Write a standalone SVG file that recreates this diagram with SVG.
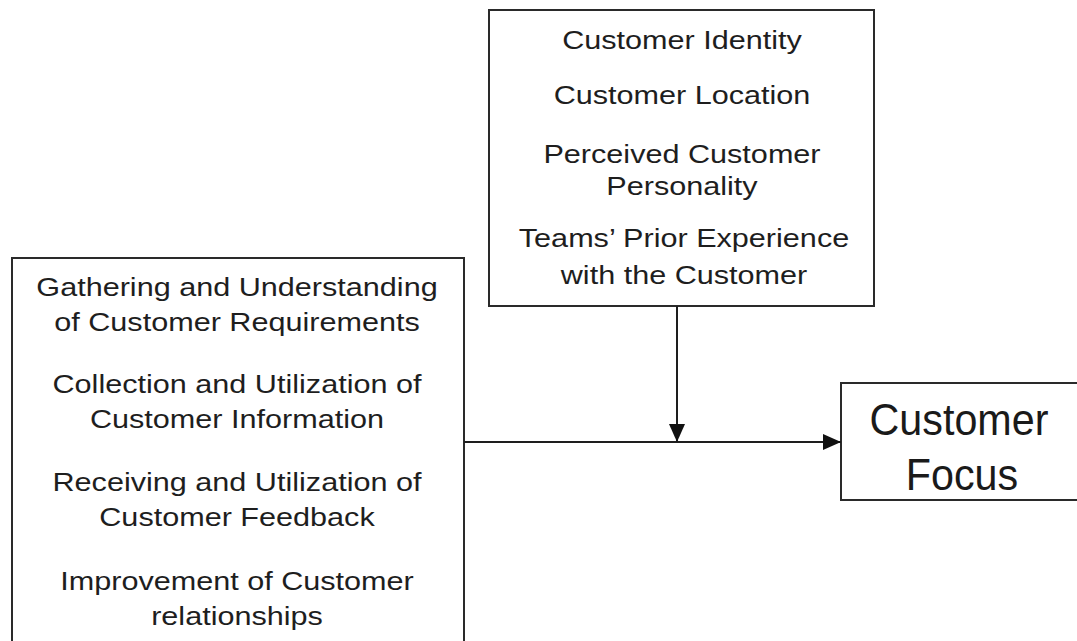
<svg xmlns="http://www.w3.org/2000/svg" width="1077" height="641" viewBox="0 0 1077 641">
  <style>
    .box { fill: #ffffff; stroke: #2a2a2a; stroke-width: 2; }
    .t { font-family: "Liberation Sans", Arial, sans-serif; font-size: 25.5px; fill: #1e1e1e; text-anchor: middle; }
    .big { font-family: "Liberation Sans", Arial, sans-serif; font-size: 43px; fill: #1a1a1a; text-anchor: middle; }
    .conn { stroke: #1e1e1e; stroke-width: 2; fill: none; }
  </style>
  <defs>
    <marker id="arrow" markerWidth="18" markerHeight="16" refX="18" refY="8" orient="auto" markerUnits="userSpaceOnUse">
      <path d="M0,0 L18,8 L0,16 Z" fill="#111111"/>
    </marker>
  </defs>
  <rect width="1077" height="641" fill="#ffffff"/>

  <g id="node-context">
    <rect class="box" x="489" y="10" width="385" height="296"/>
    <text class="t" transform="translate(682,49) scale(1.2,1)">Customer Identity</text>
    <text class="t" transform="translate(682,104) scale(1.2,1)">Customer Location</text>
    <text class="t" transform="translate(682,163) scale(1.2,1)">Perceived Customer</text>
    <text class="t" transform="translate(682,195) scale(1.2,1)">Personality</text>
    <text class="t" transform="translate(684,247) scale(1.2,1)">Teams’ Prior Experience</text>
    <text class="t" transform="translate(684,284) scale(1.2,1)">with the Customer</text>
  </g>

  <g id="node-practices">
    <rect class="box" x="12" y="258" width="452" height="400"/>
    <text class="t" transform="translate(237,296) scale(1.2,1)">Gathering and Understanding</text>
    <text class="t" transform="translate(237,331) scale(1.2,1)">of Customer Requirements</text>
    <text class="t" transform="translate(237,393) scale(1.2,1)">Collection and Utilization of</text>
    <text class="t" transform="translate(237,428) scale(1.2,1)">Customer Information</text>
    <text class="t" transform="translate(237,491) scale(1.2,1)">Receiving and Utilization of</text>
    <text class="t" transform="translate(237,526) scale(1.2,1)">Customer Feedback</text>
    <text class="t" transform="translate(237,590) scale(1.2,1)">Improvement of Customer</text>
    <text class="t" transform="translate(237,625) scale(1.2,1)">relationships</text>
  </g>

  <g id="node-focus">
    <rect class="box" x="841" y="383" width="250" height="117"/>
    <text class="big" transform="translate(959,435) scale(0.96,1.02)">Customer</text>
    <text class="big" transform="translate(962,490) scale(0.96,1.02)">Focus</text>
  </g>

  <g id="connectors">
    <line class="conn" x1="464" y1="442" x2="841" y2="442" marker-end="url(#arrow)"/>
    <line class="conn" x1="677" y1="306" x2="677" y2="442" marker-end="url(#arrow)"/>
  </g>
</svg>
